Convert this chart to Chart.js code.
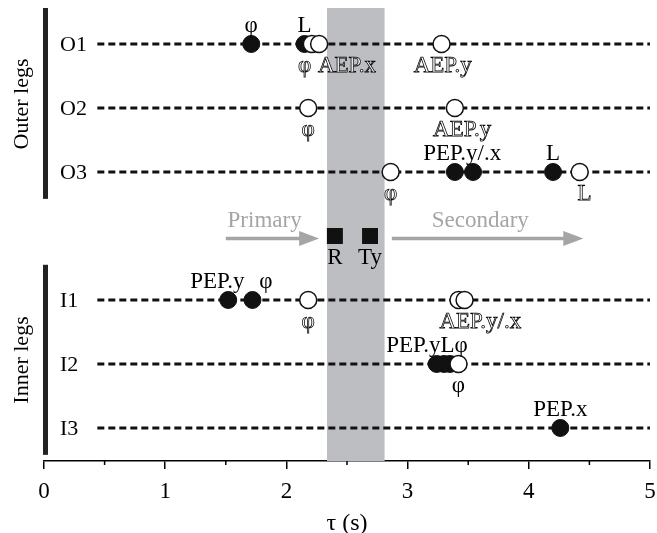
<!DOCTYPE html>
<html>
<head>
<meta charset="utf-8">
<script src="https://cdn.jsdelivr.net/npm/chart.js@4"></script>
<style>
  html, body { margin: 0; padding: 0; background: #fff; }
  #wrap { width: 657px; height: 533px; }
</style>
</head>
<body>
<div id="wrap"><canvas id="c"></canvas></div>
<script>
// rows top to bottom, index 3 is the gap row with R / Ty
const rowNames = ['O1', 'O2', 'O3', '', 'I1', 'I2', 'I3'];
const legRows = [0, 1, 2, 4, 5, 6];
const lineStart = 0.44;
const lineEnd = 5;

const filledX   = [1.71, 2.15, 3.39, 3.54, 4.20, 1.52, 1.72, 3.24, 3.30, 3.35, 4.26];
const filledRow = [0,    0,    2,    2,    2,    4,    4,    5,    5,    5,    6];

const openX   = [2.21, 2.27, 3.28, 2.18, 3.39, 2.86, 4.42, 2.18, 3.42, 3.47, 3.42];
const openRow = [0,    0,    0,    1,    1,    2,    2,    4,    4,    4,    5];

const squareX = [2.40, 2.69];
const squareRow = [3, 3];

// annotations: text, x (s), row, kind
const labelText = ['φ', 'L', 'φ', 'AEP.x', 'AEP.y',
                   'φ', 'AEP.y',
                   'φ', 'PEP.y/.x', 'L', 'L',
                   'R', 'Ty',
                   'PEP.y', 'φ', 'φ', 'AEP.y/.x',
                   'PEP.yLφ', 'φ',
                   'PEP.x'];
const labelX = [1.71, 2.15, 2.15, 2.50, 3.29,
                2.18, 3.45,
                2.86, 3.45, 4.20, 4.46,
                2.40, 2.69,
                1.43, 1.83, 2.18, 3.60,
                3.16, 3.42,
                4.26];
const labelRow = [0, 0, 0, 0, 0,
                  1, 1,
                  2, 2, 2, 2,
                  3, 3,
                  4, 4, 4, 4,
                  5, 5,
                  6];
const labelKind = ['filled', 'filled', 'open', 'open', 'open',
                   'open', 'open',
                   'open', 'filled', 'filled', 'open',
                   'square', 'square',
                   'filled', 'filled', 'open', 'open',
                   'filled', 'below',
                   'filled'];

const bandFrom = 2.335, bandTo = 2.81;
const primaryArrow = [1.50, 2.27];
const secondaryArrow = [2.87, 4.45];
const xTicks = [0, 1, 2, 3, 4, 5];
const minorTicks = [0.5, 1.5, 2.5, 3.5, 4.5];

const serif = '"Liberation Serif", "DejaVu Serif", serif';

function arrow(ctx, x1, x2, y) {
  ctx.save();
  ctx.strokeStyle = '#a5a5a5';
  ctx.fillStyle = '#a5a5a5';
  ctx.lineWidth = 3.3;
  ctx.beginPath();
  ctx.moveTo(x1, y);
  ctx.lineTo(x2 - 16, y);
  ctx.stroke();
  ctx.beginPath();
  ctx.moveTo(x2, y);
  ctx.lineTo(x2 - 20, y - 7.5);
  ctx.lineTo(x2 - 20, y + 7.5);
  ctx.closePath();
  ctx.fill();
  ctx.restore();
}

const decor = {
  id: 'decor',
  beforeDatasetsDraw(chart) {
    const {ctx, chartArea, scales: {x, y}} = chart;
    ctx.save();
    // grey band
    ctx.fillStyle = '#bdbec2';
    const b1 = x.getPixelForValue(bandFrom), b2 = x.getPixelForValue(bandTo);
    ctx.fillRect(b1, chartArea.top, b2 - b1, chartArea.bottom - chartArea.top);

    // group bars
    ctx.fillStyle = '#222';
    const bx = chartArea.left - 1;
    ctx.fillRect(bx, chartArea.top, 5, y.getPixelForValue(2.42) - chartArea.top);
    ctx.fillRect(bx, y.getPixelForValue(3.45), 5, y.getPixelForValue(6.42) - y.getPixelForValue(3.45));

    // row names
    ctx.fillStyle = '#000';
    ctx.font = '22px ' + serif;
    ctx.textAlign = 'left';
    ctx.textBaseline = 'middle';
    rowNames.forEach((n, i) => {
      if (n) ctx.fillText(n, chartArea.left + 16, y.getPixelForValue(i) + 1);
    });

    // group titles
    [['Outer legs', 1], ['Inner legs', 5]].forEach(([t, r]) => {
      ctx.save();
      ctx.translate(22, y.getPixelForValue(r) - 4);
      ctx.rotate(-Math.PI / 2);
      ctx.textAlign = 'center';
      ctx.textBaseline = 'middle';
      ctx.fillText(t, 0, 0);
      ctx.restore();
    });

    // arrows
    const ay = y.getPixelForValue(3) + 2.5;
    arrow(ctx, x.getPixelForValue(primaryArrow[0]), x.getPixelForValue(primaryArrow[1]), ay);
    arrow(ctx, x.getPixelForValue(secondaryArrow[0]), x.getPixelForValue(secondaryArrow[1]), ay);
    ctx.fillStyle = '#a5a5a5';
    ctx.font = '23px ' + serif;
    ctx.textAlign = 'center';
    ctx.textBaseline = 'alphabetic';
    ctx.fillText('Primary', x.getPixelForValue(1.82), ay - 11);
    ctx.fillText('Secondary', x.getPixelForValue(3.60), ay - 11);

    // minor ticks
    ctx.strokeStyle = '#000';
    ctx.lineWidth = 1.5;
    minorTicks.forEach(v => {
      const px = x.getPixelForValue(v);
      ctx.beginPath();
      ctx.moveTo(px, chartArea.bottom);
      ctx.lineTo(px, chartArea.bottom + 4);
      ctx.stroke();
    });
    ctx.restore();
  },
  afterDatasetsDraw(chart) {
    const {ctx, scales: {x, y}} = chart;
    ctx.save();
    ctx.font = '23px ' + serif;
    ctx.textAlign = 'center';
    ctx.textBaseline = 'alphabetic';
    labelText.forEach((t, i) => {
      const px = x.getPixelForValue(labelX[i]);
      const py = y.getPixelForValue(labelRow[i]);
      const kind = labelKind[i];
      if (kind === 'filled') {
        ctx.fillStyle = '#000';
        ctx.fillText(t, px, py - 12);
      } else if (kind === 'square' || kind === 'below') {
        ctx.fillStyle = '#000';
        ctx.fillText(t, px, py + 28);
      } else {
        ctx.fillStyle = '#fff';
        ctx.strokeStyle = '#000';
        ctx.lineWidth = 0.75;
        ctx.fillText(t, px, py + 28);
        ctx.strokeText(t, px, py + 28);
      }
    });
    ctx.restore();
  }
};

const rowLines = legRows.map(r => ({
  type: 'line',
  data: [{x: lineStart, y: r}, {x: lineEnd, y: r}],
  borderColor: '#111',
  borderWidth: 3,
  borderDash: [7, 4],
  pointRadius: 0,
  order: 3
}));

const config = {
  type: 'scatter',
  data: {
    datasets: [
      ...rowLines,
      {
        data: filledX.map((v, i) => ({x: v, y: filledRow[i]})),
        backgroundColor: '#111',
        borderColor: '#111',
        borderWidth: 1,
        pointRadius: 8.5,
        order: 2
      },
      {
        data: openX.map((v, i) => ({x: v, y: openRow[i]})),
        backgroundColor: '#fff',
        borderColor: '#111',
        borderWidth: 1.5,
        pointRadius: 8.5,
        order: 1
      },
      {
        data: squareX.map((v, i) => ({x: v, y: squareRow[i]})),
        pointStyle: 'rect',
        backgroundColor: '#111',
        borderColor: '#111',
        borderWidth: 0,
        pointRadius: 11.3,
        order: 1
      }
    ]
  },
  options: {
    animation: false,
    responsive: true,
    maintainAspectRatio: false,
    layout: {autoPadding: false, padding: {left: 44, right: 7, top: 8, bottom: 0}},
    plugins: {legend: {display: false}, tooltip: {enabled: false}},
    scales: {
      x: {
        type: 'linear',
        min: 0,
        max: 5,
        afterBuildTicks: (axis) => { axis.ticks = xTicks.map(v => ({value: v})); },
        afterFit: (axis) => {
          axis.height = 72;
          axis.paddingLeft = 0;
          axis.paddingRight = 0;
        },
        ticks: {
          color: '#000',
          font: {family: serif, size: 23, lineHeight: 1},
          padding: 11,
          maxRotation: 0,
          autoSkip: false
        },
        grid: {
          drawOnChartArea: false,
          drawTicks: true,
          tickLength: 8,
          color: '#000',
          lineWidth: 1.5
        },
        border: {display: true, color: '#000', width: 1.5},
        title: {
          display: true,
          text: 'τ (s)',
          color: '#000',
          font: {family: serif, size: 24, lineHeight: 0.8},
          padding: {top: 2, bottom: 0}
        }
      },
      y: {
        type: 'linear',
        display: false,
        reverse: true,
        min: -0.5625,
        max: 6.516
      }
    }
  },
  plugins: [decor]
};

new Chart(document.getElementById('c'), config);
</script>
</body>
</html>
